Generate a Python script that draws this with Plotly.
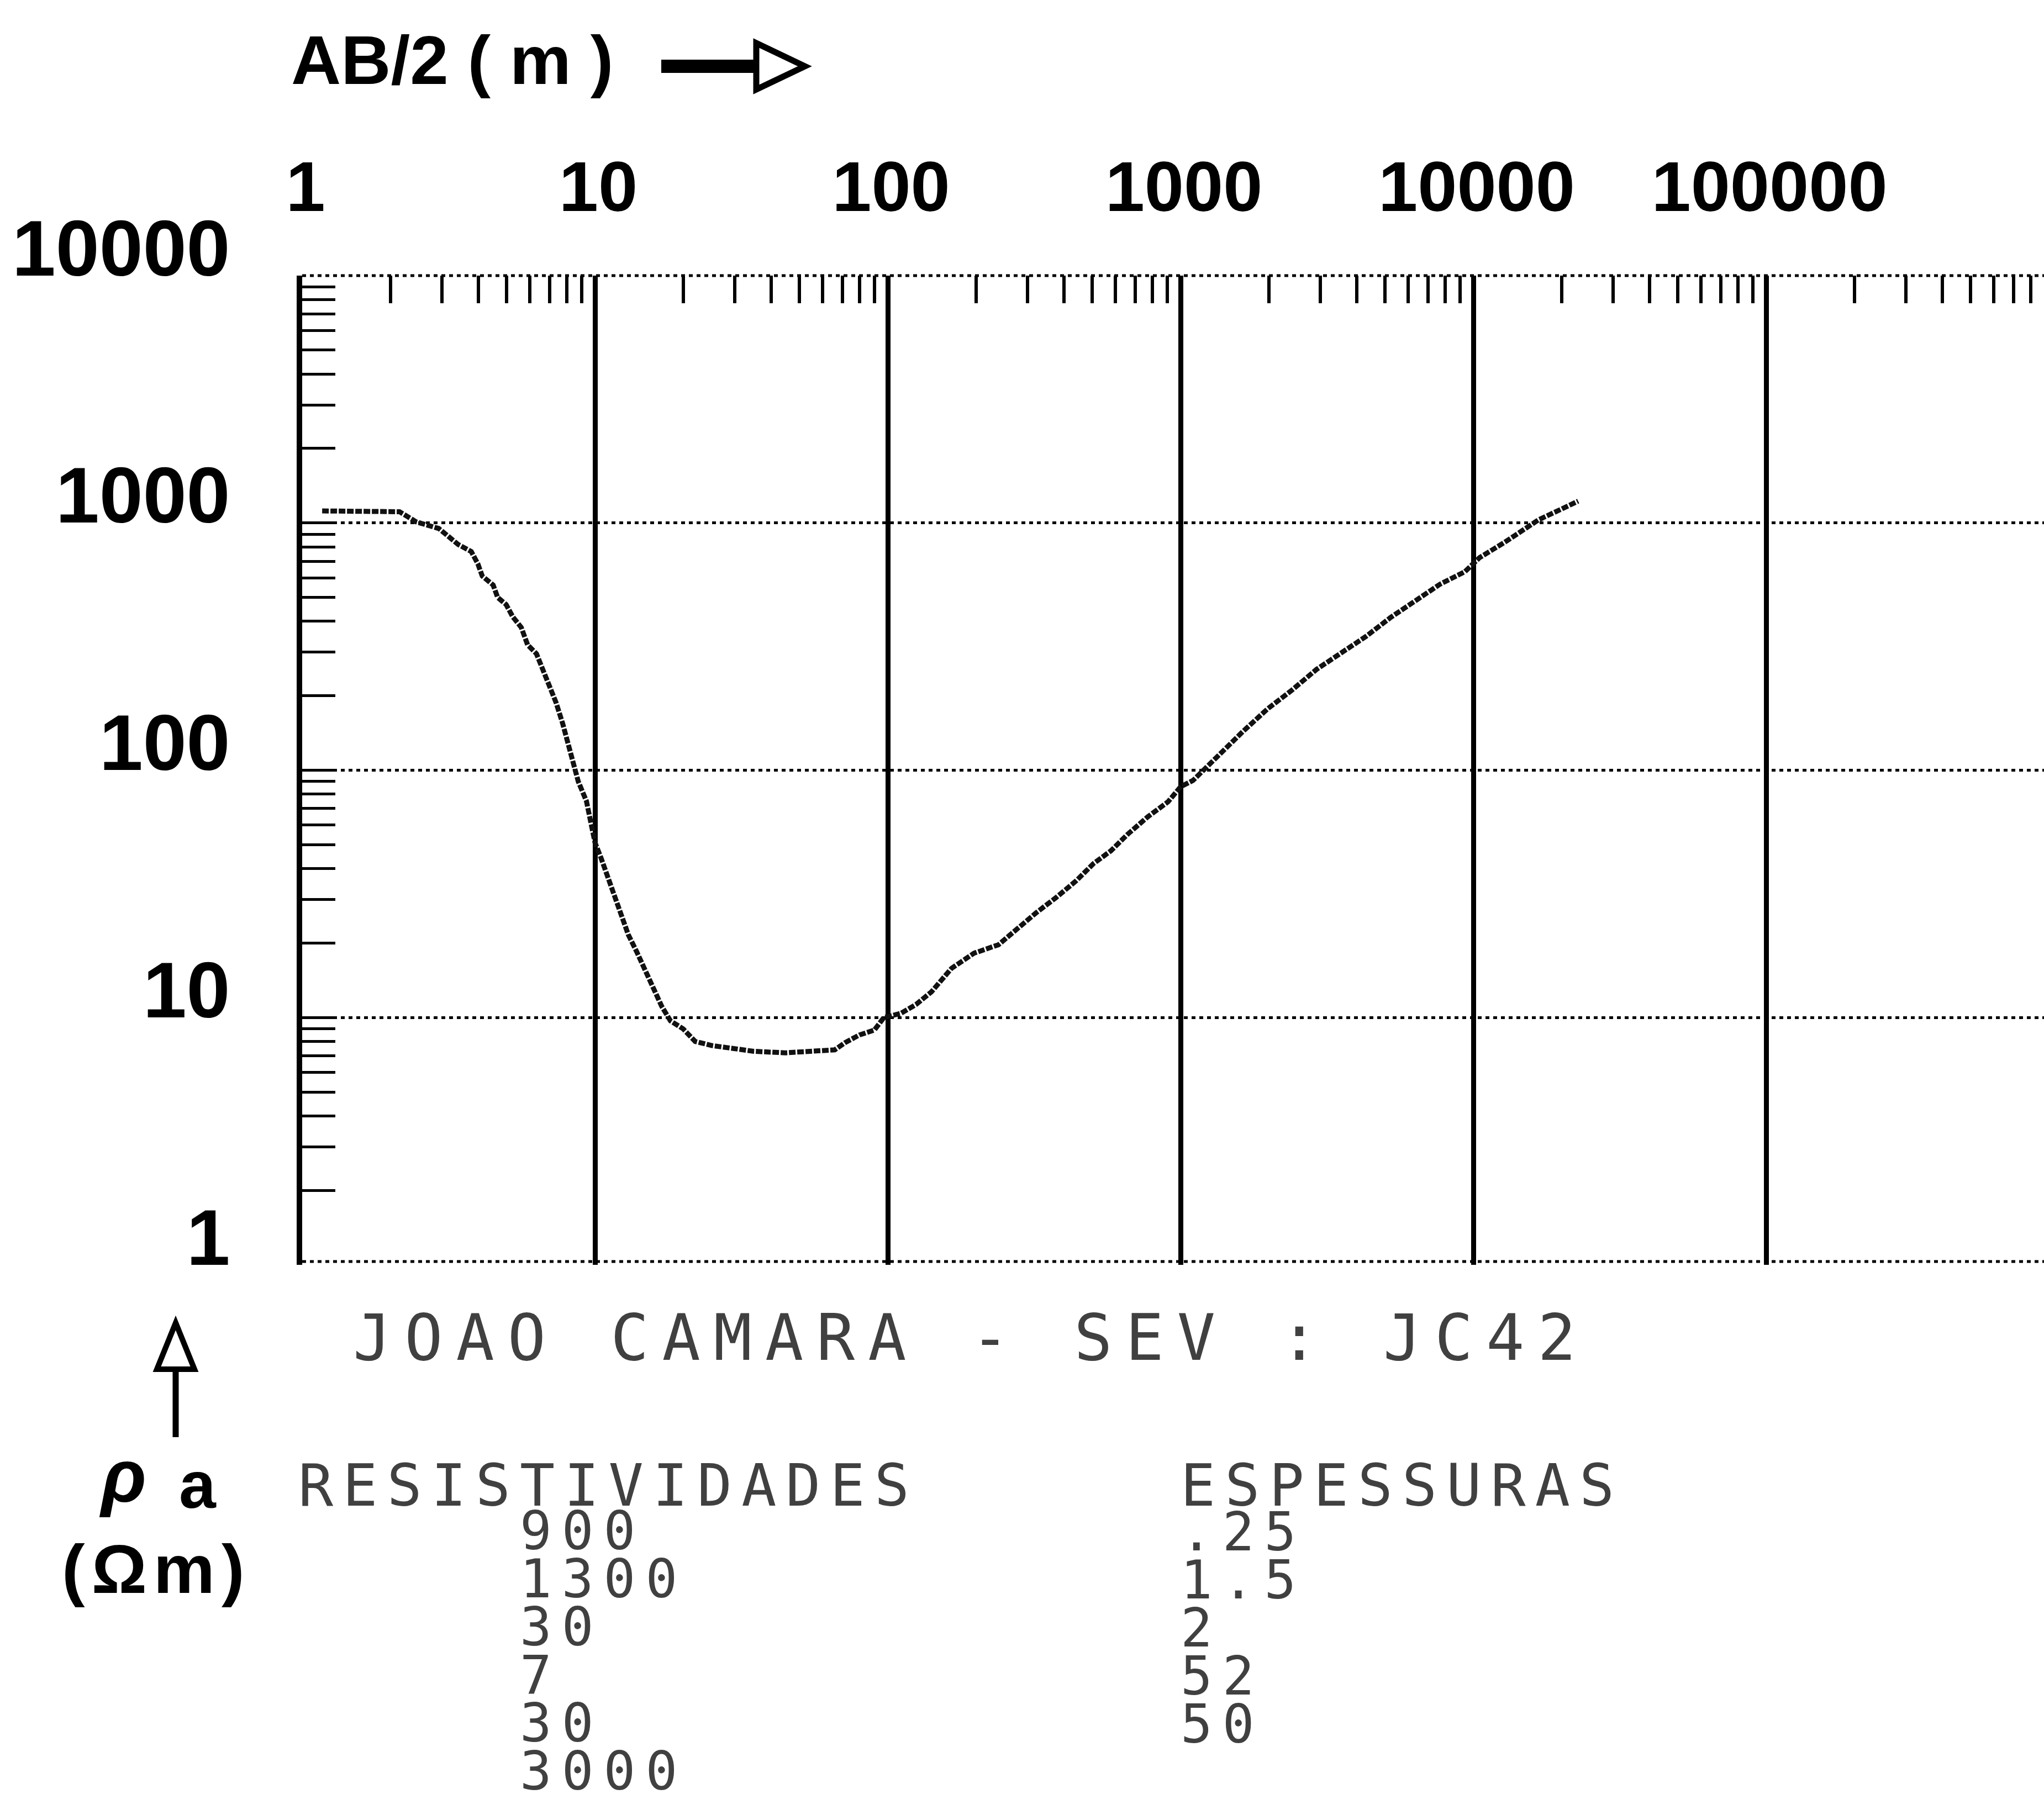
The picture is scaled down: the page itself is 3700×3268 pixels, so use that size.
import plotly.graph_objects as go

# ---------------- data ----------------
ab2 = [1.17, 1.58, 2.15, 2.45, 2.93, 3.41, 3.78, 3.98, 4.12, 4.49,
       4.65, 4.97, 5.24, 5.60, 5.89, 6.31, 6.64, 6.98, 7.36, 7.75,
       8.15, 8.77, 9.35, 10.0, 10.5, 11.4, 12.2, 13.0, 13.9, 14.8,
       15.8, 16.9, 18.1, 20.0, 22.0, 25.1, 29.6, 34.9, 44.7, 54.3,
       65.9, 71.3, 80.0, 90.0, 97.0, 111, 125, 141, 165, 197,
       239, 280, 321, 375, 440, 504, 578, 662, 774, 906,
       1000, 1104, 1265, 1629, 1982, 2404, 2917, 3540, 4305, 5224,
       6339, 7691, 9354, 10500, 12735, 14322, 16711, 19907, 22803]
rho_a = [1118, 1118, 1110, 1010, 949, 818, 766, 684, 610, 561,
         500, 468, 417, 378, 321, 296, 255, 223, 188, 155,
         125, 90, 75, 51, 44, 33.5, 26.6, 21.6, 18.4, 15.7,
         13.3, 11.1, 9.7, 9.0, 8.0, 7.7, 7.5, 7.3, 7.2, 7.3,
         7.4, 7.9, 8.5, 8.9, 10.0, 10.4, 11.3, 12.7, 15.8, 18.2,
         19.7, 23.1, 26.5, 30.5, 35.7, 41.9, 47.2, 55.3, 64.9, 74.5,
         85.7, 91, 107, 143, 177, 211, 256, 299, 348, 415,
         484, 565, 635, 724, 832, 916, 1030, 1135, 1225]

x_tick_vals = [1, 10, 100, 1000, 10000, 100000]
x_tick_text = ["1", "10", "100", "1000", "10000", "100000"]
y_tick_vals = [1, 10, 100, 1000, 10000]
y_tick_text = ["1", "10", "100", "1000", "10000"]

title_text = "JOAO CAMARA - SEV : JC42"
resist_header = "RESISTIVIDADES"
resistividades = ["900", "1300", "30", "7", "30", "3000"]
thick_header = "ESPESSURAS"
espessuras = [".25", "1.5", "2", "52", "50"]

# ---------------- geometry ----------------
W, H = 3700, 3268
PL, PR, PT, PB = 547, 3700, 499, 2290


def px(x):
    return (x - PL) / (PR - PL)


def py(y):
    return (PB - y) / (PB - PT)


x_minor = [m * 10 ** d for d in range(6) for m in range(2, 10)]
y_minor = [m * 10 ** d for d in range(4) for m in range(2, 10)]

fig = go.Figure()
fig.add_trace(go.Scatter(
    x=ab2, y=rho_a, mode="lines",
    line=dict(color="#111111", width=9, dash="12px,3px"),
    showlegend=False, hoverinfo="skip"))

num_font = dict(family="Liberation Sans", color="black", weight="bold")
grid_dash = "7px,7px"

fig.update_xaxes(
    type="log", range=[0, 5.949], side="top",
    tickmode="array", tickvals=x_tick_vals, ticktext=x_tick_text,
    tickfont=dict(size=128, **num_font),
    showgrid=True, gridcolor="black", gridwidth=9,
    ticks="inside", ticklen=50, tickwidth=6, tickcolor="black",
    minor=dict(tickmode="array", tickvals=x_minor, ticks="inside",
               ticklen=50, tickwidth=6, tickcolor="black", showgrid=False),
    showline=False, zeroline=False,
    ticklabelstandoff=90, ticklabelshift=6, automargin=False)

fig.update_yaxes(
    type="log", range=[0, 4],
    tickmode="array", tickvals=y_tick_vals, ticktext=y_tick_text,
    tickfont=dict(size=142, **num_font),
    showgrid=True, gridcolor="black", gridwidth=5, griddash=grid_dash,
    showline=True, linewidth=10, linecolor="black",
    ticks="inside", ticklen=60, tickwidth=5, tickcolor="black",
    minor=dict(tickmode="array", tickvals=y_minor, ticks="inside",
               ticklen=60, tickwidth=5, tickcolor="black", showgrid=False),
    zeroline=False, ticklabelstandoff=92, ticklabelshift=-50,
    automargin=False)

ann = []
# axis title AB/2 (m)
ann.append(dict(text="AB/2 ( m )", x=px(525), y=py(108), xanchor="left",
                yanchor="middle", font=dict(size=125, **num_font)))
# rho_a label
ann.append(dict(text="<i>ρ</i>", x=px(222), y=py(2672), xanchor="center",
                yanchor="middle", font=dict(size=135, **num_font)))
ann.append(dict(text="a", x=px(358), y=py(2688), xanchor="center",
                yanchor="middle", font=dict(size=120, **num_font)))
ann.append(dict(text='<span style="letter-spacing:12px">(Ωm)</span>',
                x=px(283), y=py(2840), xanchor="center", yanchor="middle",
                font=dict(size=125, **num_font)))

mono = dict(family="DejaVu Sans Mono", color="#404040")
ann.append(dict(text='<span style="letter-spacing:24px">%s</span>' % title_text,
                x=px(637), y=py(2422), xanchor="left", yanchor="middle",
                font=dict(size=115, **mono)))
ann.append(dict(text='<span style="letter-spacing:17px">%s</span>' % resist_header,
                x=px(538), y=py(2690), xanchor="left", yanchor="middle",
                font=dict(size=105, **mono)))
ann.append(dict(text='<span style="letter-spacing:17px">%s</span>' % thick_header,
                x=px(2135), y=py(2690), xanchor="left", yanchor="middle",
                font=dict(size=105, **mono)))
for i, t in enumerate(resistividades):
    ann.append(dict(text='<span style="letter-spacing:18px">%s</span>' % t,
                    x=px(939), y=py(2772 + i * 87), xanchor="left",
                    yanchor="middle", font=dict(size=96, **mono)))
for i, t in enumerate(espessuras):
    ann.append(dict(text='<span style="letter-spacing:18px">%s</span>' % t,
                    x=px(2135), y=py(2774 + i * 87), xanchor="left",
                    yanchor="middle", font=dict(size=96, **mono)))
for a in ann:
    a.update(xref="paper", yref="paper", showarrow=False)

shapes = [
    # dotted top and bottom frame lines
    dict(type="line", x0=0, y0=1, x1=1, y1=1,
         line=dict(color="black", width=5, dash=grid_dash)),
    dict(type="line", x0=0, y0=py(2284), x1=1, y1=py(2284),
         line=dict(color="black", width=5, dash=grid_dash)),
    # arrow after AB/2 (m)
    dict(type="line", x0=px(1197), y0=py(120), x1=px(1372), y1=py(120),
         line=dict(color="black", width=24)),
    dict(type="path",
         path="M %f,%f L %f,%f L %f,%f Z" % (px(1369), py(78), px(1457), py(120),
                                              px(1369), py(162)),
         line=dict(color="black", width=11), fillcolor="white"),
    # arrow above rho_a
    dict(type="line", x0=px(318), y0=py(2479), x1=px(318), y1=py(2602),
         line=dict(color="black", width=11)),
    dict(type="path",
         path="M %f,%f L %f,%f L %f,%f Z" % (px(318), py(2395), px(352), py(2479),
                                              px(284), py(2479)),
         line=dict(color="black", width=10), fillcolor="white"),
]
for s in shapes:
    s.update(xref="paper", yref="paper", layer="above")

fig.update_layout(
    width=W, height=H,
    margin=dict(l=PL, r=W - PR, t=PT, b=H - PB, pad=0),
    paper_bgcolor="white", plot_bgcolor="white",
    annotations=ann, shapes=shapes, showlegend=False)

fig.write_html("out.html")
